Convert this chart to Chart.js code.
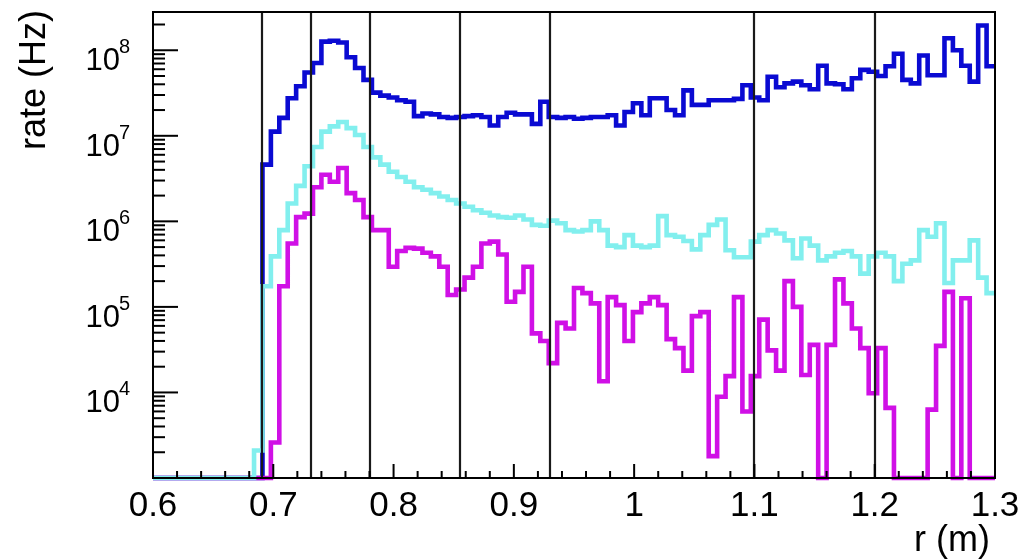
<!DOCTYPE html>
<html>
<head>
<meta charset="utf-8">
<script src="https://cdn.jsdelivr.net/npm/chart.js@4.4.1/dist/chart.umd.min.js"></script>
<style>
  html, body { margin: 0; padding: 0; background: #fff; }
  #wrap { width: 1023px; height: 559px; }
</style>
</head>
<body>
<div id="wrap"><canvas id="rateChart" width="1023" height="559"></canvas></div>
<script>
// histogram binning: 100 bins from 0.6 to 1.3 m
const R_MIN = 0.6, R_MAX = 1.3, BIN_WIDTH = 0.007;
const RATE_MIN = 1e3, RATE_MAX = 2.8e8;

// rate per bin (Hz), 0 = empty bin
const blueRates = [
  0, 0, 0, 0, 0, 0, 0, 0, 0, 0,
  0, 0, 0, 4.6e6, 1.12e7, 1.62e7, 2.75e7, 3.8e7, 5.5e7, 7.1e7,
  1.26e8, 1.29e8, 1.23e8, 8.3e7, 6.2e7, 4.5e7, 3.2e7, 2.95e7, 2.8e7, 2.6e7,
  2.5e7, 1.7e7, 1.82e7, 1.78e7, 1.66e7, 1.62e7, 1.66e7, 1.7e7, 1.74e7, 1.66e7,
  1.32e7, 1.66e7, 1.86e7, 1.78e7, 1.78e7, 1.38e7, 2.5e7, 1.66e7, 1.62e7, 1.66e7,
  1.58e7, 1.62e7, 1.66e7, 1.66e7, 1.74e7, 1.32e7, 1.9e7, 2.4e7, 1.74e7, 2.75e7,
  2.75e7, 2.0e7, 1.74e7, 3.4e7, 2.3e7, 2.3e7, 2.6e7, 2.6e7, 2.6e7, 2.7e7,
  3.9e7, 2.8e7, 2.6e7, 4.9e7, 3.7e7, 4.1e7, 4.3e7, 3.9e7, 3.5e7, 6.6e7,
  4.1e7, 4.0e7, 3.5e7, 4.7e7, 5.9e7, 5.6e7, 5.0e7, 6.5e7, 9.1e7, 4.5e7,
  4.1e7, 8.7e7, 5.1e7, 5.1e7, 1.38e8, 1.0e8, 6.6e7, 4.3e7, 1.95e8, 6.5e7
];
const cyanRates = [
  0, 0, 0, 0, 0, 0, 0, 0, 0, 0,
  0, 0, 2.1e3, 1.74e5, 3.9e5, 7.9e5, 1.62e6, 2.6e6, 4.4e6, 7.4e6,
  1.12e7, 1.29e7, 1.45e7, 1.23e7, 1.02e7, 7.4e6, 5.6e6, 4.6e6, 3.8e6, 3.3e6,
  2.9e6, 2.5e6, 2.34e6, 2.14e6, 1.95e6, 1.78e6, 1.62e6, 1.48e6, 1.35e6, 1.26e6,
  1.17e6, 1.12e6, 1.1e6, 1.17e6, 1.05e6, 9.1e5, 8.9e5, 1.02e6, 9.5e5, 7.9e5,
  7.6e5, 7.9e5, 1.0e6, 7.9e5, 5.2e5, 5.0e5, 6.9e5, 5.2e5, 5.0e5, 5.2e5,
  1.15e6, 6.9e5, 6.6e5, 5.9e5, 4.7e5, 6.9e5, 9.1e5, 1.05e6, 4.6e5, 3.8e5,
  3.8e5, 5.8e5, 6.9e5, 7.9e5, 7.2e5, 6.0e5, 3.7e5, 6.3e5, 5.2e5, 3.5e5,
  3.9e5, 4.3e5, 4.5e5, 3.9e5, 2.45e5, 3.9e5, 4.3e5, 3.9e5, 2.0e5, 3.2e5,
  3.5e5, 7.9e5, 6.6e5, 9.5e5, 1.9e5, 3.5e5, 3.5e5, 6.0e5, 2.2e5, 1.45e5
];
const magentaRates = [
  0, 0, 0, 0, 0, 0, 0, 0, 0, 0,
  0, 0, 0, 0, 2.6e3, 1.74e5, 5.5e5, 1.12e6, 1.23e6, 2.5e6,
  3.5e6, 2.9e6, 4.2e6, 2.14e6, 1.78e6, 1.12e6, 7.9e5, 7.9e5, 2.95e5, 4.5e5,
  4.9e5, 4.8e5, 4.3e5, 3.9e5, 2.95e5, 1.38e5, 1.6e5, 2.2e5, 2.95e5, 5.5e5,
  5.8e5, 4.1e5, 1.15e5, 1.5e5, 2.95e5, 4.9e4, 4.0e4, 2.2e4, 6.5e4, 5.6e4,
  1.66e5, 1.45e5, 1.1e5, 1.35e4, 1.3e5, 1.05e5, 4.0e4, 8.7e4, 1.1e5, 1.3e5,
  1.05e5, 4.2e4, 3.3e4, 1.8e4, 7.8e4, 8.7e4, 1.8e3, 8.9e3, 1.55e4, 1.3e5,
  6.0e3, 1.55e4, 7.1e4, 3.1e4, 1.8e4, 2.0e5, 1.0e5, 1.6e4, 3.6e4, 0,
  3.6e4, 2.1e5, 1.1e5, 5.6e4, 3.3e4, 9.8e3, 3.3e4, 6.6e3, 0, 0,
  0, 0, 6.3e3, 3.5e4, 1.5e5, 0, 1.26e5, 0, 0, 0
];

// detector layer radii (vertical lines)
const layerRadii = [0.691, 0.731, 0.780, 0.855, 0.930, 1.100, 1.200];

const xTickLabels = ['0.6', '0.7', '0.8', '0.9', '1', '1.1', '1.2', '1.3'];
const yTickExponents = [4, 5, 6, 7, 8];
const xTitle = 'r (m)';
const yTitle = 'rate (Hz)';

const FONT = '"Liberation Sans", Arial, Helvetica, sans-serif';

// turn bin contents into step points at the bin edges
function toSteps(rates) {
  const pts = rates.map((v, i) => ({ x: R_MIN + i * BIN_WIDTH, y: v > 0 ? v : RATE_MIN }));
  pts.push({ x: R_MAX, y: pts[pts.length - 1].y });
  return pts;
}

// frame, ticks, labels and layer lines in ROOT style
const rootFrame = {
  id: 'rootFrame',
  afterDatasetsDraw(chart) {
    const { ctx, chartArea: a, scales: { x, y } } = chart;
    ctx.save();

    // layer lines
    ctx.strokeStyle = '#1a1a1a';
    ctx.lineWidth = 2.2;
    layerRadii.forEach(r => {
      const px = Math.round(x.getPixelForValue(r));
      ctx.beginPath();
      ctx.moveTo(px, a.top);
      ctx.lineTo(px, a.bottom);
      ctx.stroke();
    });

    // frame
    ctx.strokeStyle = '#000';
    ctx.lineWidth = 2;
    ctx.strokeRect(a.left, a.top, a.right - a.left, a.bottom - a.top);

    // x ticks (minor every 0.02, major every 0.1)
    for (let i = 30; i <= 65; i++) {
      const px = x.getPixelForValue(i * 0.02);
      const len = (i % 5 === 0) ? 14 : 7;
      ctx.beginPath();
      ctx.moveTo(px, a.bottom);
      ctx.lineTo(px, a.bottom - len);
      ctx.stroke();
    }

    // y ticks (decades long, 2..9 short)
    for (let e = 3; e <= 8; e++) {
      for (let m = 1; m <= 9; m++) {
        const v = m * Math.pow(10, e);
        if (v < RATE_MIN || v > RATE_MAX) continue;
        const py = y.getPixelForValue(v);
        const len = (m === 1) ? 25 : 12;
        ctx.beginPath();
        ctx.moveTo(a.left, py);
        ctx.lineTo(a.left + len, py);
        ctx.stroke();
      }
    }

    // tick labels
    ctx.fillStyle = '#000';
    ctx.textBaseline = 'alphabetic';
    ctx.font = '35px ' + FONT;
    ctx.textAlign = 'center';
    xTickLabels.forEach(t => {
      ctx.fillText(t, x.getPixelForValue(parseFloat(t)), 516);
    });

    yTickExponents.forEach(e => {
      const py = y.getPixelForValue(Math.pow(10, e));
      ctx.font = '31px ' + FONT;
      ctx.textAlign = 'right';
      ctx.fillText('10', 120, py + 20);
      ctx.font = '20px ' + FONT;
      ctx.textAlign = 'left';
      ctx.fillText(String(e), 119, py + 3);
    });

    // axis titles
    ctx.font = '36px ' + FONT;
    ctx.textAlign = 'right';
    ctx.fillText(xTitle, 990, 551);

    ctx.translate(45, 10);
    ctx.rotate(-Math.PI / 2);
    ctx.fillText(yTitle, 0, 0);

    ctx.restore();
  }
};

const lineStyle = {
  borderWidth: 4.6,
  stepped: true,
  fill: false,
  pointRadius: 0,
  borderJoinStyle: 'miter',
  borderCapStyle: 'butt',
  clip: { left: 0, top: 0, right: 0, bottom: 4 }
};

new Chart(document.getElementById('rateChart').getContext('2d'), {
  type: 'line',
  data: {
    datasets: [
      Object.assign({ label: 'cyan', data: toSteps(cyanRates), borderColor: '#82efee', order: 0 }, lineStyle),
      Object.assign({ label: 'magenta', data: toSteps(magentaRates), borderColor: '#d010e6', order: 1 }, lineStyle),
      Object.assign({ label: 'blue', data: toSteps(blueRates), borderColor: '#0a0ad2', order: 2 }, lineStyle)
    ]
  },
  options: {
    responsive: false,
    animation: false,
    devicePixelRatio: 1,
    layout: { padding: { top: 12, right: 28, left: 0, bottom: 0 } },
    plugins: { legend: { display: false }, tooltip: { enabled: false } },
    scales: {
      x: {
        type: 'linear', min: R_MIN, max: R_MAX,
        grid: { display: false }, border: { display: false }, ticks: { display: false },
        afterFit: s => { s.height = 81; }
      },
      y: {
        type: 'logarithmic', min: RATE_MIN, max: RATE_MAX,
        grid: { display: false }, border: { display: false }, ticks: { display: false },
        afterFit: s => { s.width = 153; }
      }
    }
  },
  plugins: [rootFrame]
});
</script>
</body>
</html>
